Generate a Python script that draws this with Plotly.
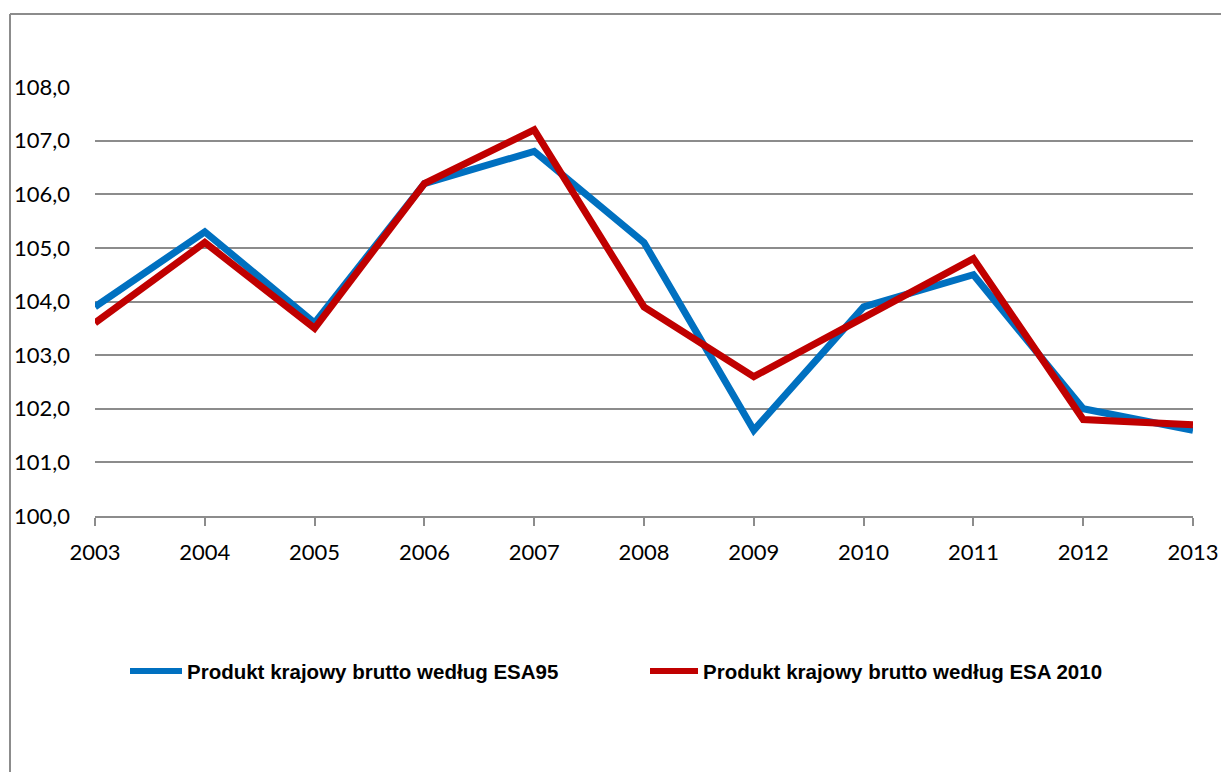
import plotly.graph_objects as go

years = [2003, 2004, 2005, 2006, 2007, 2008, 2009, 2010, 2011, 2012, 2013]
esa95 = [103.9, 105.3, 103.6, 106.2, 106.8, 105.1, 101.6, 103.9, 104.5, 102.0, 101.6]
esa2010 = [103.6, 105.1, 103.5, 106.2, 107.2, 103.9, 102.6, 103.7, 104.8, 101.8, 101.7]
series_names = ["Produkt krajowy brutto według ESA95", "Produkt krajowy brutto według ESA 2010"]
colors = ["#0070C0", "#C00000"]
y_ticks = [100, 101, 102, 103, 104, 105, 106, 107, 108]
y_tick_text = ["100,0", "101,0", "102,0", "103,0", "104,0", "105,0", "106,0", "107,0", "108,0"]

W, H = 1221, 772
L, R, T, B = 95, 1193, 87, 516

fig = go.Figure()
for vals, name, col in zip([esa95, esa2010], series_names, colors):
    fig.add_trace(go.Scatter(x=years, y=vals, mode="lines", name=name,
                             line=dict(color=col, width=7), showlegend=False))

def px2paper(px, py):
    return (px - L) / (R - L), (B - py) / (B - T)

shapes = []
x0, y0 = px2paper(10, 780)
x1, y1 = px2paper(10, 14)
x2, _ = px2paper(1230, 14)
shapes.append(dict(type="line", xref="paper", yref="paper", x0=x0, y0=y0, x1=x1, y1=y1,
                   line=dict(color="#8C8C8C", width=2)))
shapes.append(dict(type="line", xref="paper", yref="paper", x0=x1, y0=y1, x1=x2, y1=y1,
                   line=dict(color="#8C8C8C", width=2)))

annotations = []
legend_items = [(130, 182, 185), (650, 698, 701)]
for (lx0, lx1, tx), name, col in zip(legend_items, series_names, colors):
    a, yy = px2paper(lx0, 671)
    b, _ = px2paper(lx1, 671)
    shapes.append(dict(type="line", xref="paper", yref="paper", x0=a, y0=yy, x1=b, y1=yy,
                       line=dict(color=col, width=6)))
    t, _ = px2paper(tx, 671)
    annotations.append(dict(xref="paper", yref="paper", x=t, y=yy, xanchor="left", yanchor="middle",
                            text=name, showarrow=False,
                            font=dict(family="Liberation Sans, Arial", size=20.5, color="#000000", weight="bold")))

fig.update_layout(
    width=W, height=H,
    margin=dict(l=L, r=W - R, t=T, b=H - B, autoexpand=False),
    paper_bgcolor="white", plot_bgcolor="white",
    shapes=shapes, annotations=annotations,
    xaxis=dict(range=[2003, 2013], tickvals=years, ticktext=[str(y) for y in years],
               showgrid=False, zeroline=False, showline=True, linecolor="#8C8C8C", linewidth=1.5,
               ticks="outside", ticklen=8, tickwidth=1.5, tickcolor="#8C8C8C",
               tickfont=dict(family="Lato, Carlito, Calibri", size=22, color="#000000"),
               ticklabelstandoff=8),
    yaxis=dict(range=[100, 108], tickvals=y_ticks, ticktext=y_tick_text,
               showgrid=True, gridcolor="#8C8C8C", gridwidth=1.5, zeroline=False, showline=False,
               ticks="", tickfont=dict(family="Lato, Carlito, Calibri", size=22, color="#000000"),
               ticklabelstandoff=24),
)

fig.write_html("out.html", config={"displayModeBar": False},
               post_script="document.body.style.margin='0';document.body.style.overflow='hidden';")
